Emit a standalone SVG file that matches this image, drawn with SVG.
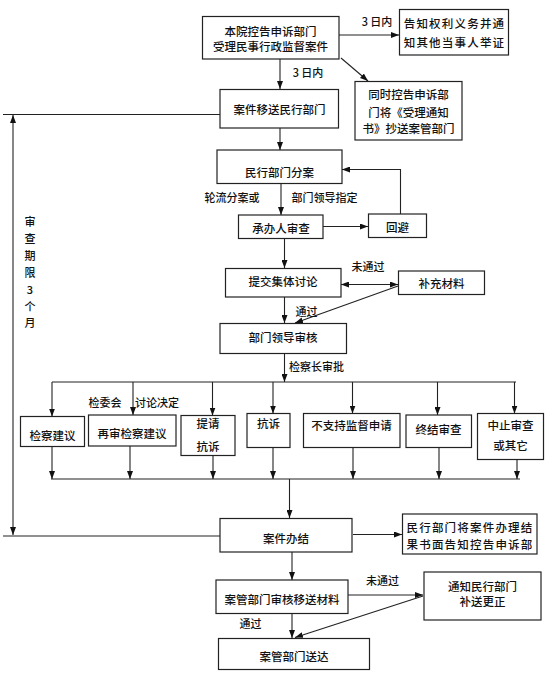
<svg xmlns="http://www.w3.org/2000/svg" width="558" height="673" viewBox="0 0 558 673">
<style>
  .bg{fill:#fff}
  .box{fill:#fff;stroke:#222;stroke-width:1.2}
  .ln{fill:none;stroke:#222;stroke-width:1.1}
  .t{font-family:"Noto Sans CJK SC","Noto Sans",sans-serif;font-size:11.5px;fill:#111;text-anchor:middle;font-weight:500}
  .ls{letter-spacing:1.2px}
  .lb{font-family:"Noto Sans CJK SC","Noto Sans",sans-serif;font-size:11px;fill:#111;text-anchor:middle;font-weight:500}
</style>
<defs>
  <marker id="ah" viewBox="0 0 8 6" refX="8" refY="3" markerWidth="8" markerHeight="6" markerUnits="userSpaceOnUse" orient="auto">
    <path d="M0,0 L8,3 L0,6 Z" fill="#111"/>
  </marker>
  <marker id="ahs" viewBox="0 0 8 6" refX="0" refY="3" markerWidth="8" markerHeight="6" markerUnits="userSpaceOnUse" orient="auto">
    <path d="M8,0 L0,3 L8,6 Z" fill="#111"/>
  </marker>
</defs>
<rect class="bg" x="0" y="0" width="558" height="673"/>

<g id="connectors">
  <!-- top -->
  <line class="ln" x1="339" y1="35" x2="399" y2="35" marker-end="url(#ah)"/>
  <line class="ln" x1="280" y1="59" x2="280" y2="89" marker-end="url(#ah)"/>
  <line class="ln" x1="341" y1="58" x2="368" y2="81" marker-end="url(#ah)"/>
  <line class="ln" x1="280" y1="128" x2="280" y2="150" marker-end="url(#ah)"/>
  <!-- time limit bracket -->
  <line class="ln" x1="3" y1="114.5" x2="220" y2="114.5"/>
  <line class="ln" x1="3" y1="536" x2="220" y2="536"/>
  <line class="ln" x1="13" y1="325" x2="13" y2="115" marker-end="url(#ah)"/>
  <line class="ln" x1="13" y1="325" x2="13" y2="535" marker-end="url(#ah)"/>
  <!-- assignment -->
  <line class="ln" x1="281" y1="183" x2="281" y2="215" marker-end="url(#ah)"/>
  <line class="ln" x1="323" y1="226.5" x2="368" y2="226.5" marker-end="url(#ah)"/>
  <polyline class="ln" points="400.5,214 400.5,169.5 342,169.5" marker-end="url(#ah)"/>
  <line class="ln" x1="284.5" y1="238" x2="284.5" y2="268" marker-end="url(#ah)"/>
  <line class="ln" x1="341" y1="284.5" x2="398" y2="284.5" marker-start="url(#ahs)" marker-end="url(#ah)"/>
  <line class="ln" x1="398" y1="286" x2="295" y2="323" marker-end="url(#ah)"/>
  <line class="ln" x1="284.5" y1="297" x2="284.5" y2="323" marker-end="url(#ah)"/>
  <line class="ln" x1="284.5" y1="353" x2="284.5" y2="382" marker-end="url(#ah)"/>
  <!-- distribution -->
  <line class="ln" x1="52" y1="382" x2="516" y2="382"/>
  <line class="ln" x1="52" y1="382" x2="52" y2="416.5" marker-end="url(#ah)"/>
  <line class="ln" x1="133" y1="382" x2="133" y2="415" marker-end="url(#ah)"/>
  <line class="ln" x1="212.5" y1="382" x2="212.5" y2="415.5" marker-end="url(#ah)"/>
  <line class="ln" x1="273" y1="382" x2="273" y2="413.5" marker-end="url(#ah)"/>
  <line class="ln" x1="352.5" y1="382" x2="352.5" y2="413.5" marker-end="url(#ah)"/>
  <line class="ln" x1="437.5" y1="382" x2="437.5" y2="415" marker-end="url(#ah)"/>
  <line class="ln" x1="514.5" y1="382" x2="514.5" y2="413.5" marker-end="url(#ah)"/>
  <!-- gathering -->
  <line class="ln" x1="52" y1="446.5" x2="52" y2="479" marker-end="url(#ah)"/>
  <line class="ln" x1="130" y1="446" x2="130" y2="479" marker-end="url(#ah)"/>
  <line class="ln" x1="213" y1="455.5" x2="213" y2="479" marker-end="url(#ah)"/>
  <line class="ln" x1="273" y1="447.5" x2="273" y2="479" marker-end="url(#ah)"/>
  <line class="ln" x1="353" y1="447.5" x2="353" y2="479" marker-end="url(#ah)"/>
  <line class="ln" x1="439" y1="447.5" x2="439" y2="479" marker-end="url(#ah)"/>
  <line class="ln" x1="517" y1="459.5" x2="517" y2="479" marker-end="url(#ah)"/>
  <line class="ln" x1="51" y1="479" x2="520" y2="479"/>
  <line class="ln" x1="289.5" y1="479" x2="289.5" y2="518" marker-end="url(#ah)"/>
  <!-- closing -->
  <line class="ln" x1="353" y1="534.5" x2="402" y2="534.5" marker-end="url(#ah)"/>
  <line class="ln" x1="292" y1="552" x2="292" y2="580" marker-end="url(#ah)"/>
  <line class="ln" x1="348" y1="595" x2="423" y2="595" marker-end="url(#ah)"/>
  <line class="ln" x1="423" y1="596" x2="295" y2="637.5" marker-end="url(#ah)"/>
  <line class="ln" x1="292" y1="613.5" x2="292" y2="638" marker-end="url(#ah)"/>
</g>

<g id="labels">
  <text class="lb" x="377" y="26">3 日内</text>
  <text class="lb" x="308" y="77">3 日内</text>
  <text class="lb" x="232" y="202">轮流分案或</text>
  <text class="lb" x="324.5" y="202">部门领导指定</text>
  <text class="lb" x="368" y="271">未通过</text>
  <text class="lb" x="306.5" y="316">通过</text>
  <text class="lb" x="316.5" y="370.5">检察长审批</text>
  <text class="lb" x="105" y="406.5">检委会</text>
  <text class="lb" x="157" y="406.5">讨论决定</text>
  <text class="lb" x="382.5" y="585">未通过</text>
  <text class="lb" x="250.5" y="627.5">通过</text>
  <g id="time-limit">
    <text class="lb" x="30" y="226">审</text>
    <text class="lb" x="30" y="243">查</text>
    <text class="lb" x="30" y="260">期</text>
    <text class="lb" x="30" y="277">限</text>
    <text class="lb" x="30" y="294">3</text>
    <text class="lb" x="30" y="311">个</text>
    <text class="lb" x="30" y="327">月</text>
  </g>
</g>

<g id="n-accept">
  <rect class="box" x="202.5" y="16.5" width="136.5" height="42.5"/>
  <text class="t" x="270.5" y="36">本院控告申诉部门</text>
  <text class="t" x="270.5" y="51">受理民事行政监督案件</text>
</g>
<g id="n-notify-rights">
  <rect class="box" x="399.5" y="9.5" width="109" height="45.5"/>
  <text class="t ls" x="454.5" y="27.5">告知权利义务并通</text>
  <text class="t ls" x="454.5" y="47">知其他当事人举证</text>
</g>
<g id="n-transfer">
  <rect class="box" x="220" y="89.5" width="118.5" height="38.5"/>
  <text class="t" x="279.5" y="114">案件移送民行部门</text>
</g>
<g id="n-copy">
  <rect class="box" x="355" y="81.5" width="107" height="58.5"/>
  <text class="t" x="408.5" y="98.5">同时控告申诉部</text>
  <text class="t" x="408.5" y="117">门将《受理通知</text>
  <text class="t" x="408.5" y="133">书》抄送案管部门</text>
</g>
<g id="n-assign">
  <rect class="box" x="217" y="150" width="125" height="33.5"/>
  <text class="t" x="279.5" y="177">民行部门分案</text>
</g>
<g id="n-review">
  <rect class="box" x="238.5" y="215" width="84.5" height="23.5"/>
  <text class="t" x="281" y="232.5">承办人审查</text>
</g>
<g id="n-avoid">
  <rect class="box" x="368.5" y="214" width="58" height="23.5"/>
  <text class="t" x="397.5" y="232">回避</text>
</g>
<g id="n-discuss">
  <rect class="box" x="225.5" y="268.5" width="115.5" height="28.5"/>
  <text class="t" x="283" y="286">提交集体讨论</text>
</g>
<g id="n-supplement">
  <rect class="box" x="398.5" y="271" width="86" height="23.5"/>
  <text class="t" x="441.5" y="288">补充材料</text>
</g>
<g id="n-leader">
  <rect class="box" x="220" y="323.5" width="126.5" height="30"/>
  <text class="t" x="283" y="342">部门领导审核</text>
</g>
<g id="n-r1">
  <rect class="box" x="20.5" y="416.5" width="64" height="30"/>
  <text class="t" x="52.5" y="439.5">检察建议</text>
</g>
<g id="n-r2">
  <rect class="box" x="88.5" y="415" width="87.5" height="31"/>
  <text class="t" x="132" y="437.5">再审检察建议</text>
</g>
<g id="n-r3">
  <rect class="box" x="181" y="415.5" width="54" height="40"/>
  <text class="t" x="208" y="427.5">提请</text>
  <text class="t" x="208" y="451">抗诉</text>
</g>
<g id="n-r4">
  <rect class="box" x="247" y="413.5" width="43" height="34"/>
  <text class="t" x="268.5" y="427.5">抗诉</text>
</g>
<g id="n-r5">
  <rect class="box" x="303.5" y="413.5" width="96.5" height="34"/>
  <text class="t" x="351.5" y="429.5">不支持监督申请</text>
</g>
<g id="n-r6">
  <rect class="box" x="406" y="415" width="65.5" height="32.5"/>
  <text class="t" x="438.5" y="433.5">终结审查</text>
</g>
<g id="n-r7">
  <rect class="box" x="477.5" y="413.5" width="66" height="46"/>
  <text class="t" x="510.5" y="429.5">中止审查</text>
  <text class="t" x="510.5" y="449.5">或其它</text>
</g>
<g id="n-close">
  <rect class="box" x="220" y="518.5" width="132" height="33.5"/>
  <text class="t" x="286" y="542.5">案件办结</text>
</g>
<g id="n-inform">
  <rect class="box" x="402.5" y="514" width="134.5" height="40"/>
  <text class="t ls" x="470" y="531.5">民行部门将案件办理结</text>
  <text class="t ls" x="470" y="548.5">果书面告知控告申诉部</text>
</g>
<g id="n-case-mgmt">
  <rect class="box" x="216" y="580" width="132" height="33.5"/>
  <text class="t" x="282" y="603.5">案管部门审核移送材料</text>
</g>
<g id="n-correct">
  <rect class="box" x="424" y="572" width="117" height="48"/>
  <text class="t" x="482.5" y="591">通知民行部门</text>
  <text class="t" x="482.5" y="605.5">补送更正</text>
</g>
<g id="n-deliver">
  <rect class="box" x="218.5" y="638.5" width="151" height="31"/>
  <text class="t" x="294" y="661">案管部门送达</text>
</g>
</svg>
